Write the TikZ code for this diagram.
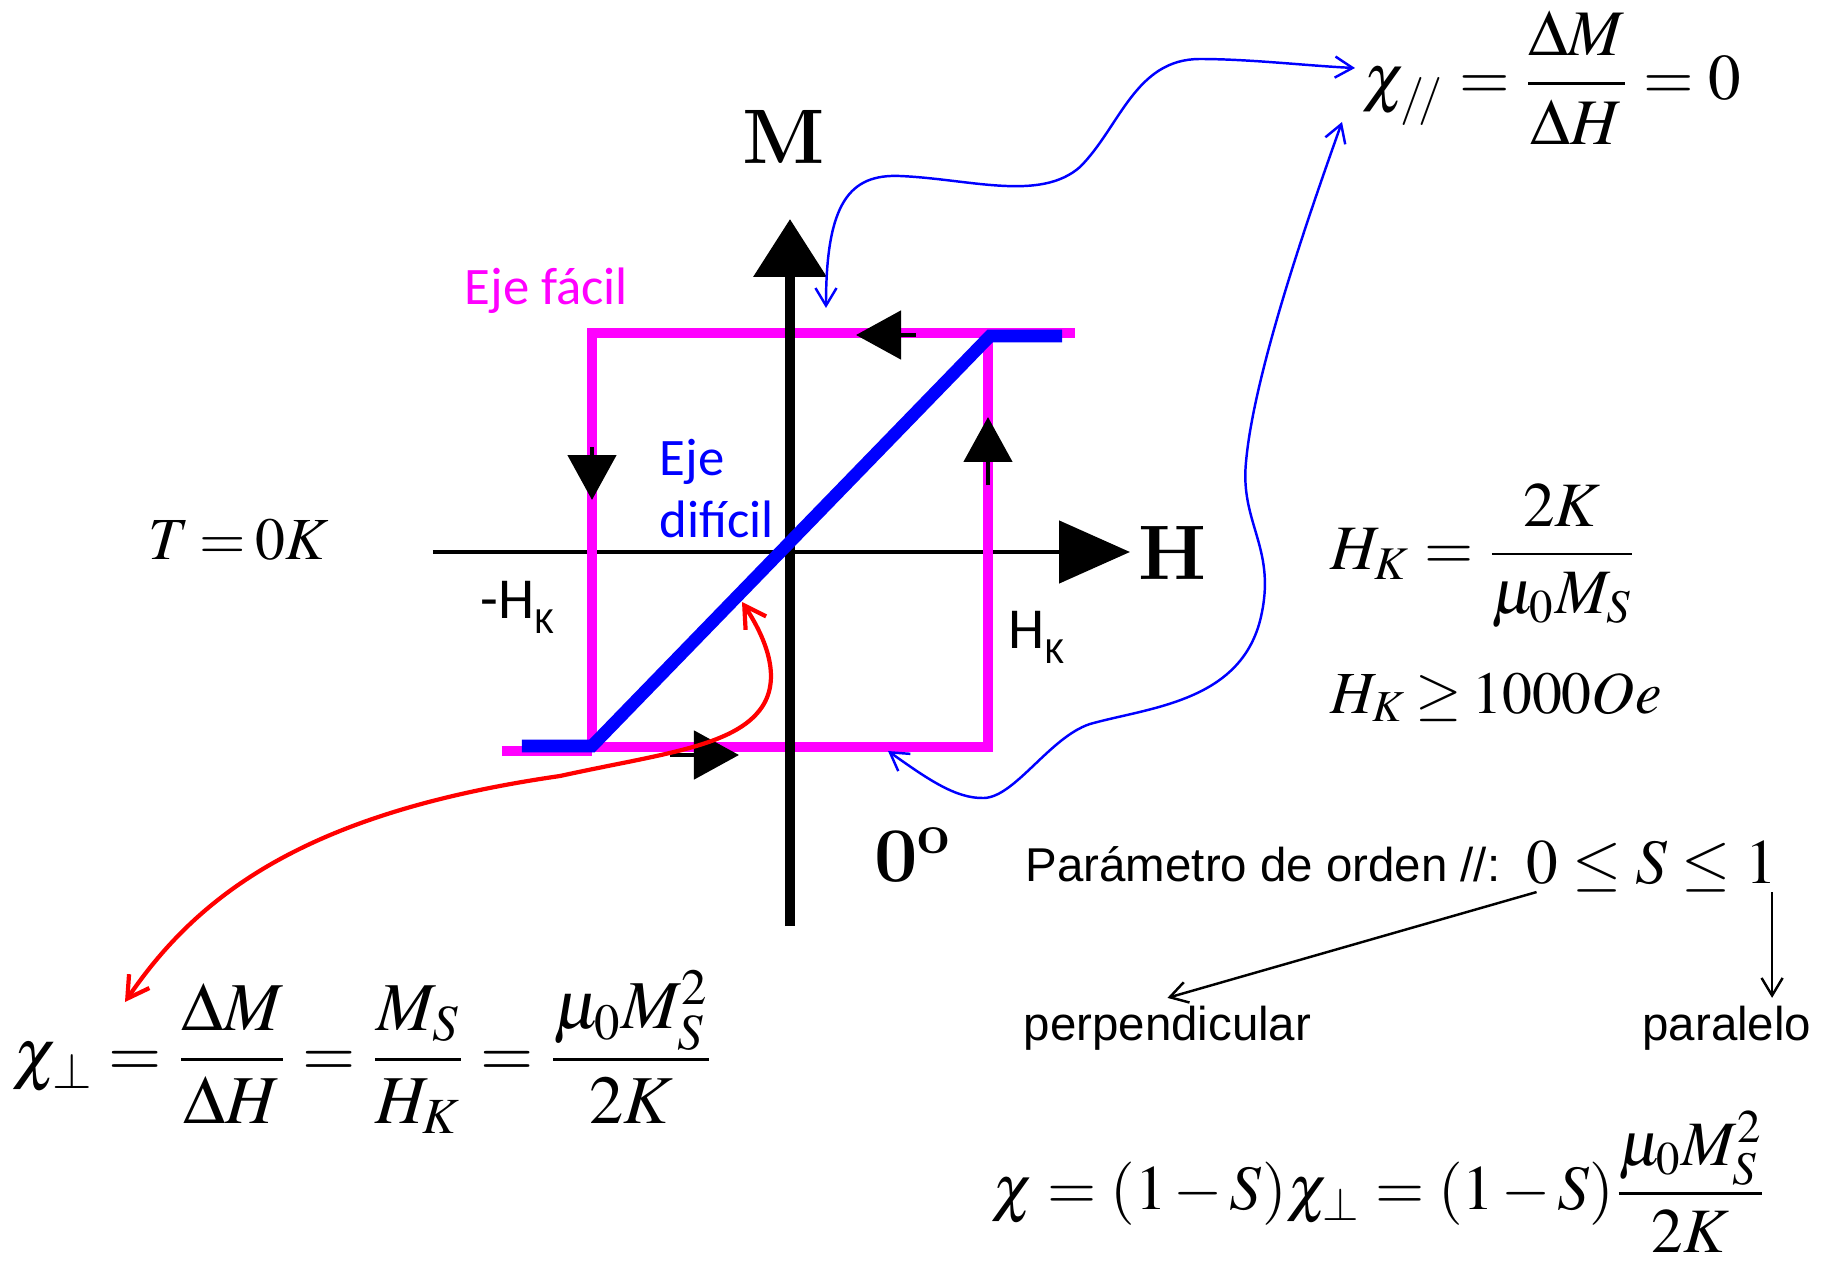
\documentclass[tikz,border=0pt]{standalone}
\usepackage{amsmath}
\usepackage[no-math]{fontspec}
\usepackage{mathptmx}
\renewcommand{\rmdefault}{lmr}
\usetikzlibrary{arrows.meta}
\newfontfamily\calibrifont{Carlito}
\newfontfamily\arialfont{Liberation Sans}
\definecolor{EjeMagenta}{RGB}{255,0,255}
\definecolor{EjeBlue}{RGB}{0,0,255}
\definecolor{EjeRed}{RGB}{255,0,0}
\newcommand{\subK}{\raisebox{-4.3pt}{\fontsize{10.5}{12}\selectfont K}}

\begin{document}
\begin{tikzpicture}[
    easy/.style={EjeMagenta, line width=2.85pt},
    hard/.style={EjeBlue, line width=3.6pt},
    looptip/.style={line width=1.4pt, -{Triangle[length=0.45cm,width=0.48cm]}},
    link/.style={EjeBlue, line width=0.7pt, {Straight Barb[length=5pt,width=6pt]}-{Straight Barb[length=5pt,width=6pt]}},
    redlink/.style={EjeRed, line width=1.2pt, {Straight Barb[length=6pt,width=7pt]}-{Straight Barb[length=6pt,width=7pt]}},
    sarrow/.style={line width=0.7pt, -{Straight Barb[length=5pt,width=6pt]}},
    formula/.style={inner sep=0pt, font=\fontsize{20}{24}\selectfont},
    calibri/.style={inner sep=0pt, font=\calibrifont\fontsize{15}{17.6}\selectfont},
    hklbl/.style={inner sep=0pt, anchor=base west, font=\calibrifont\fontsize{16.5}{20}\selectfont},
    arial/.style={inner sep=0pt, font=\arialfont\fontsize{13.5}{16}\selectfont},
    bigletter/.style={inner sep=0pt, font=\fontsize{22}{26}\selectfont\bfseries}]
      \useasboundingbox (-7.90,-7.12) rectangle (10.37,5.52);

      \draw[line width=1.4pt, -{Triangle[length=0.71cm,width=0.62cm]}] (-3.57,0) -- (3.40,0);
      \draw[easy] (-2.88,-1.99) -- (-1.98,-1.99);
      \draw[easy] (-1.98,-1.95) rectangle (1.98,2.19);
      \draw[easy] (1.98,2.19) -- (2.85,2.19);
      \draw[line width=3pt, -{Triangle[length=0.58cm,width=0.71cm]}] (0,-3.74) -- (0,3.33);
      \draw[hard] (-2.68,-1.94) -- (-1.98,-1.94) -- (2.00,2.16) -- (2.72,2.16);

      \draw[looptip] (1.26,2.17) -- (0.66,2.17);
      \draw[looptip] (1.98,0.67) -- (1.98,1.35);
      \draw[looptip] (-1.98,1.05) -- (-1.98,0.52);
      \draw[looptip] (-1.20,-2.03) -- (-0.51,-2.03);

      \node[bigletter] (mlabel) at (-0.06,4.15) {M};
      \node[bigletter] (hlabel) at (3.83,-0.01) {H};
      \node[bigletter] (angle) at (1.23,-3.03) {0\textsuperscript{o}};

      \node[calibri, EjeMagenta, anchor=base west] (easylbl) at (-3.26,2.47) {Eje fácil};
      \node[calibri, EjeBlue, anchor=north west, align=left] (hardlbl) at (-1.31,1.13) {Eje\\difícil};
      \node[hklbl] (hkneg) at (-3.10,-0.66) {-H\subK};
      \node[hklbl] (hkpos) at (2.18,-0.96) {H\subK};

      \node[formula, font=\fontsize{17}{20}\selectfont, anchor=base west] (temp) at (-6.42,-0.07) {$\thickmuskip=3mu T = 0K$};
      \node[formula, font=\fontsize{18.5}{22}\selectfont, anchor=west] (chipar) at (5.72,4.74) {$\thickmuskip=4mu \chi_{/\!/} = \dfrac{\Delta M}{\Delta H} = 0$};
      \node[formula, font=\fontsize{18}{22}\selectfont, anchor=west] (hkdef) at (5.40,-0.04) {$H_{K} = \dfrac{2K}{\mu_{0} M_{S}}$};
      \node[formula, font=\fontsize{17}{21}\selectfont, anchor=base west] (hkmin) at (5.40,-1.61) {$\thickmuskip=3mu H_{K} \ge 1000Oe$};
      \node[formula, font=\fontsize{19.5}{23}\selectfont, anchor=west] (chiperp) at (-7.78,-5.00) {$\thickmuskip=4mu \chi_{\perp} = \dfrac{\Delta M}{\Delta H} = \dfrac{M_{S}}{H_{K}} = \dfrac{\mu_{0} M_{S}^{2}}{2K}$};
      \node[formula, font=\fontsize{18}{22}\selectfont, anchor=west] (chitot) at (2.01,-6.30) {$\thickmuskip=4mu \medmuskip=2mu \chi = (1 - S)\chi_{\perp} = (1 - S)\dfrac{\mu_{0} M_{S}^{2}}{2K}$};

      \node[arial, anchor=base west] (param) at (2.35,-3.29) {Parámetro de orden //:};
      \node[formula, font=\fontsize{18}{22}\selectfont, anchor=base west] (srange) at (7.36,-3.31) {$\thickmuskip=4mu 0 \le S \le 1$};
      \node[arial, anchor=base west] (perp) at (2.33,-4.88) {perpendicular};
      \node[arial, anchor=base east] (para) at (10.22,-4.88) {paralelo};

      \coordinate (looptop) at (0.36,2.44);
      \coordinate (loopbot) at (0.98,-1.99);
      \coordinate (diag) at (-0.48,-0.50);
      \coordinate (sone) at ([xshift=-1.5pt]srange.south east);
      \coordinate (paratop) at ([yshift=2pt]para.north);

      \draw[link] (looptop) .. controls (0.36,3.5) and (0.6,3.78) .. (1.1,3.76)
        .. controls (1.8,3.73) and (2.5,3.5) .. (2.9,3.85)
        .. controls (3.3,4.25) and (3.45,4.93) .. (4.1,4.93)
        .. controls (4.6,4.93) and (5.2,4.86) .. ([shift={(-0.07,0.10)}]chipar.west);
      \draw[link] (loopbot) .. controls (1.35,-2.25) and (1.65,-2.47) .. (1.94,-2.46)
        .. controls (2.25,-2.45) and (2.6,-1.85) .. (3.0,-1.72)
        .. controls (3.6,-1.55) and (4.55,-1.5) .. (4.72,-0.6)
        .. controls (4.85,0.05) and (4.5,0.3) .. (4.56,0.9)
        .. controls (4.64,1.8) and (5.2,3.4) .. ([shift={(-0.20,-0.44)}]chipar.west);
      \draw[redlink] (diag) .. controls (-0.25,-0.85) and (-0.08,-1.25) .. (-0.28,-1.55)
        .. controls (-0.55,-1.95) and (-1.3,-2.02) .. (-2.3,-2.24)
        .. controls (-4.8,-2.6) and (-5.9,-3.4) .. ([shift={(1.13,0.50)}]chiperp.west);

      \draw[sarrow] ([xshift=3pt]srange.south west) -- ([yshift=2pt]perp.north);
      \draw[sarrow] (sone) -- (sone |- paratop);
    \end{tikzpicture}
\end{document}
